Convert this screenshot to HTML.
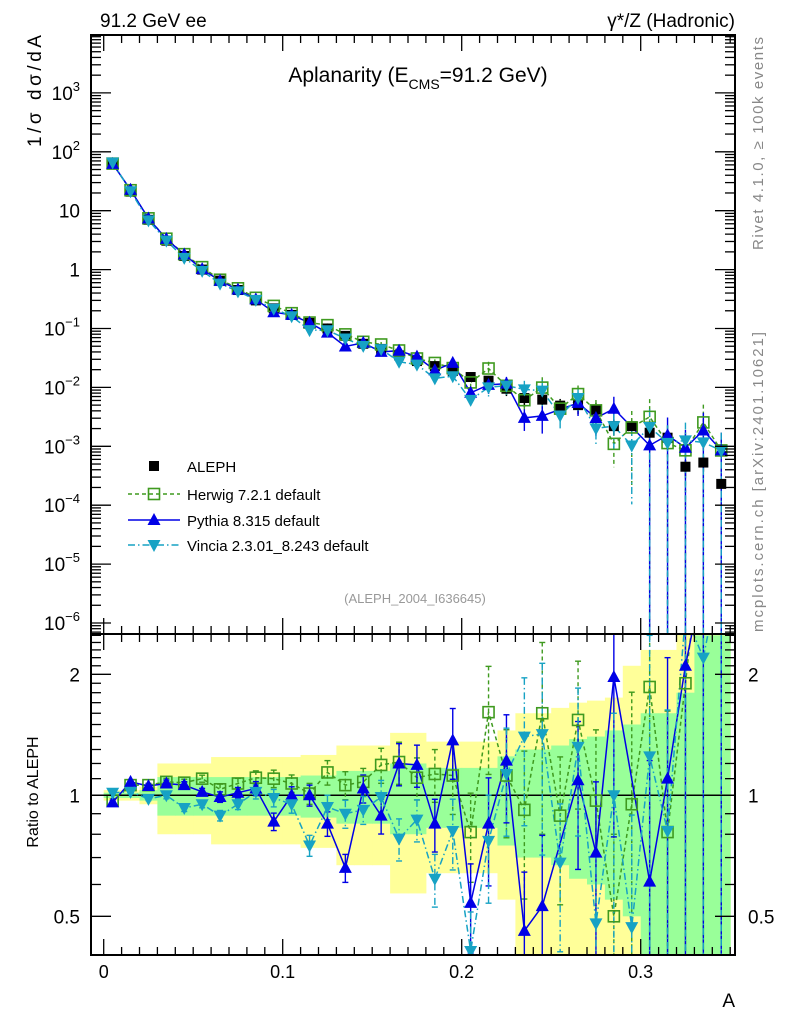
<!DOCTYPE html>
<html><head><meta charset="utf-8"><style>
html,body{margin:0;padding:0;background:#fff;width:786px;height:1024px;overflow:hidden;}
svg{display:block;font-family:"Liberation Sans","DejaVu Sans",sans-serif;}
</style></head><body>
<svg id="chart" width="786" height="1024" viewBox="0 0 786 1024" xmlns="http://www.w3.org/2000/svg">
<defs>
<clipPath id="clipMain"><rect x="91" y="35" width="644" height="599"/></clipPath>
<clipPath id="clipRatio"><rect x="91" y="634" width="644" height="321"/></clipPath>
</defs>
<text x="100" y="27" font-size="19">91.2 GeV ee</text>
<text x="735" y="27" font-size="19" text-anchor="end">γ*/Z (Hadronic)</text>
<text x="418" y="82" font-size="21" text-anchor="middle">Aplanarity (E<tspan font-size="14" dy="7">CMS</tspan><tspan dy="-7">=91.2 GeV)</tspan></text>
<text transform="translate(41,35) rotate(-90)" font-size="19" text-anchor="end" textLength="112" lengthAdjust="spacing">1/σ  dσ/dA</text>
<text transform="translate(38,792) rotate(-90)" font-size="16" text-anchor="middle">Ratio to ALEPH</text>
<text transform="translate(763,250) rotate(-90)" font-size="15" fill="#888" textLength="213" lengthAdjust="spacing">Rivet 4.1.0, ≥ 100k events</text>
<text transform="translate(763,632) rotate(-90)" font-size="15" fill="#888" textLength="300" lengthAdjust="spacing">mcplots.cern.ch [arXiv:2401.10621]</text>
<text x="415" y="603" font-size="13" fill="#999" text-anchor="middle">(ALEPH_2004_I636645)</text>
<text x="735" y="1007" font-size="19" text-anchor="end">A</text>
<g id="bands"></g>
<g id="grid"></g>
<g id="series"></g>
<g id="axes"></g>
<g id="legend"></g>
</svg>
<script>
const binCenters=[0.005,0.015,0.025,0.035,0.045,0.055,0.065,0.075,0.085,0.095,0.105,0.115,0.125,0.135,0.145,0.155,0.165,0.175,0.185,0.195,0.205,0.215,0.225,0.235,0.245,0.255,0.265,0.275,0.285,0.295,0.305,0.315,0.325,0.335,0.345];
const alephValues=[65,21,7,3.1,1.7,1.0,0.65,0.45,0.30,0.22,0.17,0.125,0.10,0.075,0.055,0.045,0.035,0.028,0.023,0.019,0.015,0.013,0.0095,0.0066,0.0062,0.0049,0.005,0.0042,0.0022,0.0022,0.0017,0.0014,0.00045,0.00053,0.00023];
const alephTotalErr=[0.03,0.03,0.05,0.2,0.2,0.2,0.245,0.245,0.245,0.245,0.245,0.26,0.26,0.33,0.33,0.33,0.43,0.43,0.36,0.36,0.36,0.36,0.45,0.6,0.6,0.65,0.7,0.72,0.75,1.1,1.3,1.3,1.6,2,2];
const alephStatErr=[0.015,0.015,0.03,0.11,0.11,0.11,0.11,0.11,0.11,0.11,0.11,0.12,0.12,0.15,0.15,0.15,0.2,0.2,0.17,0.17,0.17,0.17,0.25,0.3,0.3,0.33,0.38,0.4,0.45,0.5,0.6,0.6,0.8,1.5,1.5];
const herwigRatio=[0.97,1.06,1.06,1.08,1.075,1.10,1.035,1.07,1.106,1.10,1.07,1.01,1.14,1.06,1.08,1.19,1.21,1.106,1.13,1.12,0.81,1.61,1.12,0.92,1.6,0.89,1.54,0.97,0.50,0.95,1.86,0.81,1.9,4.8,3.7];
const pythiaRatio=[0.96,1.08,1.055,1.07,1.06,1.02,0.99,1.015,1.04,0.86,1.0,1.0,0.85,0.66,1.04,0.89,1.20,1.19,0.85,1.37,0.54,0.85,1.22,0.46,0.53,null,1.09,0.72,1.97,null,0.61,1.1,2.1,3.5,3.7];
const vinciaRatio=[1.015,1.02,0.98,1.0,0.93,0.95,0.89,0.95,1.02,0.985,0.95,0.75,0.935,0.90,0.92,0.99,0.78,0.87,0.62,0.815,0.41,0.77,1.13,1.40,1.42,0.68,1.32,0.48,1.0,0.47,1.25,0.815,2.8,2.2,3.7];
const mcRelErr=[0.01,0.01,0.01,0.02,0.02,0.02,0.03,0.03,0.04,0.05,0.05,0.06,0.07,0.08,0.08,0.1,0.12,0.12,0.15,0.2,0.25,0.3,0.3,0.4,0.5,0.4,0.4,0.5,0.6,0.9,1,1,1,1,1];
const xTickLabels=["0","0.1","0.2","0.3"];
const xTickValues=[0,0.1,0.2,0.3];
const yDecades=[3,2,1,0,-1,-2,-3,-4,-5,-6];
const ratioTickValues=[0.5,1,2];
const ratioTickLabels=["0.5","1","2"];

const NS="http://www.w3.org/2000/svg";
const L=91,R=735,MT=35,MB=634,RT=634,RB=955;
function xs(v){return 103.7+1790*v;}
function ys(v){return 623-58.9*(Math.log10(v)+6);}
function yr(r){return 795.3-121*Math.log2(r);}
const BW=0.01;
function mk(tag,attrs,parent){const e=document.createElementNS(NS,tag);for(const k in attrs)e.setAttribute(k,attrs[k]);parent.appendChild(e);return e;}
const bands=document.getElementById('bands'),series=document.getElementById('series'),axes=document.getElementById('axes'),legend=document.getElementById('legend');
const clipR=mk('g',{'clip-path':'url(#clipRatio)'},bands);
binCenters.forEach((c,i)=>{
  const x0=xs(c-BW/2),x1=xs(c+BW/2);
  const yt=yr(1+alephTotalErr[i]),yb=yr(Math.max(1-alephTotalErr[i],0.3));
  const b=mk('rect',{x:x0,y:yt,width:x1-x0+0.5,height:yb-yt,fill:'#ffff99'},clipR);
  
  
});
binCenters.forEach((c,i)=>{
  const x0=xs(c-BW/2),x1=xs(c+BW/2);
  const yt=yr(1+alephStatErr[i]),yb=yr(Math.max(1-alephStatErr[i],0.3));
  const b=mk('rect',{x:x0,y:yt,width:x1-x0+0.5,height:yb-yt,fill:'#99ff99'},clipR);
  
  
});
const ref=mk('line',{x1:L,x2:R,y1:yr(1),y2:yr(1),stroke:'#000','stroke-width':1.5},bands);



const gMain=mk('g',{'clip-path':'url(#clipMain)'},series);
const gRat=mk('g',{'clip-path':'url(#clipRatio)'},series);

function marker(g,type,x,y,color,name){
  let e;
  if(type==='sq') e=mk('rect',{x:x-5,y:y-5,width:10,height:10,fill:'#000'},g);
  else if(type==='osq') e=mk('rect',{x:x-5.5,y:y-5.5,width:11,height:11,fill:'none',stroke:color,'stroke-width':1.6},g);
  else if(type==='up') e=mk('polygon',{points:`${x},${y-7} ${x-6.5},${y+5} ${x+6.5},${y+5}`,fill:color},g);
  else e=mk('polygon',{points:`${x},${y+7} ${x-6.5},${y-5} ${x+6.5},${y-5}`,fill:color},g);
  
  
}
const mcSeries=[
  {ratio:herwigRatio,color:'#3f9a1f',dash:'4,3',type:'osq',name:'herwig'},
  {ratio:pythiaRatio,color:'#0000e6',dash:'',type:'up',name:'pythia'},
  {ratio:vinciaRatio,color:'#17a2c4',dash:'7,3,1.5,3',type:'down',name:'vincia'}
];
binCenters.forEach((c,i)=>{
  const v=alephValues[i],e=Math.min(alephStatErr[i],0.3);
  const eb=mk('line',{x1:xs(c),x2:xs(c),y1:ys(v*(1+e)),y2:ys(v*(1-e)),stroke:'#000','stroke-width':1.5},gMain);
  
  
});
mcSeries.forEach(s=>{
  ['main','ratio'].forEach(panel=>{
    const g=panel==='main'?gMain:gRat;
    const pts=[];
    binCenters.forEach((c,i)=>{
      const r=s.ratio[i]; if(r===null) return;
      const x=xs(c);
      const val=panel==='main'?alephValues[i]*r:r;
      const y=panel==='main'?ys(val):yr(val);
      const lo=Math.max(val*(1-mcRelErr[i]),1e-9),hi=val*(1+mcRelErr[i]);
      const y1=panel==='main'?ys(hi):yr(hi),y2=panel==='main'?ys(lo):yr(Math.max(lo,0.2));
      const eb=mk('line',{x1:x,x2:x,y1:y1,y2:y2,stroke:s.color,'stroke-width':1.4,'stroke-dasharray':s.dash},g);
      
      
      if(panel==='ratio'){
        [y1,y2].forEach(yy=>{const cap=mk('line',{x1:x-3,x2:x+3,y1:yy,y2:yy,stroke:s.color,'stroke-width':1.4},g);
        
        });
      }
      pts.push([x,y]);
    });
    const pl=mk('polyline',{points:pts.map(p=>p.join(',')).join(' '),fill:'none',stroke:s.color,'stroke-width':1.5,'stroke-dasharray':s.dash},g);
    
    
    s['pts_'+panel]=pts;
  });
});
binCenters.forEach((c,i)=>marker(gMain,'sq',xs(c),ys(alephValues[i]),'#000','aleph-point'));
mcSeries.forEach(s=>{
  s.pts_main.forEach(p=>marker(gMain,s.type,p[0],p[1],s.color,s.name+'-point'));
  s.pts_ratio.forEach(p=>marker(gRat,s.type,p[0],p[1],s.color,s.name+'-ratio-point'));
});

[[MT,MB,'main-frame'],[RT,RB,'ratio-frame']].forEach(f=>{
  const r=mk('rect',{x:L,y:f[0],width:R-L,height:f[1]-f[0],fill:'none',stroke:'#000','stroke-width':2},axes);
  
  
});
function tick(x1,y1,x2,y2){const t=mk('line',{x1,y1,x2,y2,stroke:'#000','stroke-width':1.3},axes);
  
  }
for(let k=0;k<=35;k++){
  const v=k/100,x=xs(v),maj=(k%10===0),len=maj?16:8;
  [[MT,1],[MB,-1],[RT,1],[RB,-1]].forEach(([y,d])=>tick(x,y,x,y+d*len));
}
xTickValues.forEach((v,i)=>{
  const t=mk('text',{x:xs(v),y:978,'font-size':18,'text-anchor':'middle'},axes);
  t.textContent=xTickLabels[i];
  
  
});
for(let d=-7;d<=3;d++){
  for(let m=1;m<10;m++){
    const v=m*Math.pow(10,d),y=ys(v);
    if(y<MT||y>MB) continue;
    const len=m===1?20:10;
    tick(L,y,L+len,y);tick(R,y,R-len,y);
  }
}
yDecades.forEach(d=>{
  const t=mk('text',{x:80,y:ys(Math.pow(10,d))+7,'font-size':19,'text-anchor':'end'},axes);
  
  
  if(d===0) t.textContent='1';
  else if(d===1) t.textContent='10';
  else {t.textContent='10';const sp=document.createElementNS(NS,'tspan');sp.setAttribute('dy','-9');sp.setAttribute('font-size','13');sp.textContent=(d<0?'−':'')+Math.abs(d);t.appendChild(sp);}
});
for(let k=4;k<=25;k++){
  const r=k/10,y=yr(r);
  if(y<RT||y>RB) continue;
  const maj=(k===5||k===10||k===20),len=maj?20:10;
  tick(L,y,L+len,y);tick(R,y,R-len,y);
}
ratioTickValues.forEach((v,i)=>{
  [[80,'end'],[748,'start']].forEach(([x,a])=>{
    const t=mk('text',{x:x,y:yr(v)+7,'font-size':19,'text-anchor':a},axes);
    t.textContent=ratioTickLabels[i];
    
    
  });
});
const legItems=[
  {label:'ALEPH',type:'sq',color:'#000',dash:null,y:466},
  {label:'Herwig 7.2.1 default',type:'osq',color:'#3f9a1f',dash:'4,3',y:494},
  {label:'Pythia 8.315 default',type:'up',color:'#0000e6',dash:'',y:520},
  {label:'Vincia 2.3.01_8.243 default',type:'down',color:'#17a2c4',dash:'7,3,1.5,3',y:545}
];
legItems.forEach(it=>{
  const g=mk('g',{},legend);
  
  
  if(it.dash!==null){
    const ln=mk('line',{x1:128,x2:180,y1:it.y,y2:it.y,stroke:it.color,'stroke-width':1.5,'stroke-dasharray':it.dash},g);
    
    
  }
  marker(g,it.type,154,it.y,it.color,'legend-marker');
  const t=mk('text',{x:187,y:it.y+6,'font-size':15},g);
  t.textContent=it.label;
  
  
});
</script>
</body></html>
